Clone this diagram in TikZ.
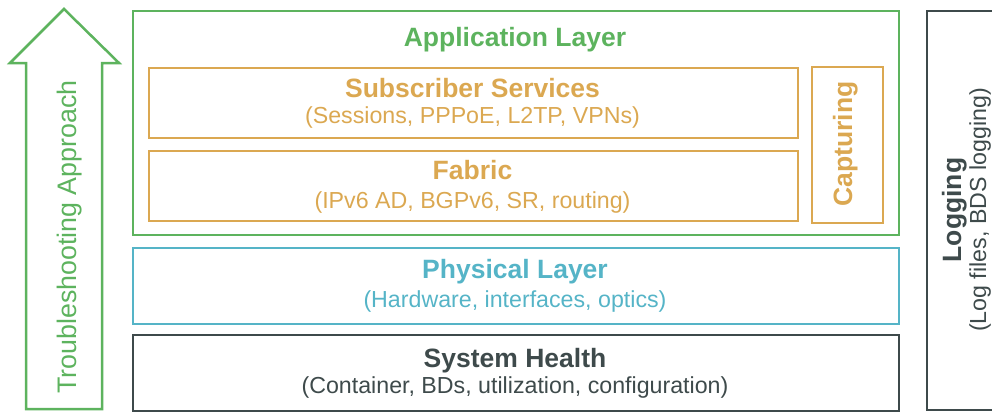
\documentclass[tikz,border=0pt]{standalone}
\usepackage{fontspec}
\setmainfont{Liberation Sans}
\definecolor{cgreen}{HTML}{5DB35E}
\definecolor{cgold}{HTML}{DBA851}
\definecolor{cteal}{HTML}{55B4C7}
\definecolor{cdark}{HTML}{3E4A4B}
\begin{document}
\begin{tikzpicture}[x=1pt,y=-1pt,
  box/.style={draw, line width=2.4pt, inner sep=0pt, anchor=north west},
  ttl/.style={font=\fontsize{26.5}{30}\selectfont\bfseries, anchor=base, inner sep=0pt},
  sub/.style={font=\fontsize{23.2}{27}\selectfont, anchor=base, inner sep=0pt}]
\useasboundingbox (0,0) rectangle (992,412);
% troubleshooting arrow
\draw[cgreen, line width=2.5pt, line join=miter]
  (64,9) -- (119,63) -- (102,63) -- (102,409) -- (26,409) -- (26,63) -- (10,63) -- cycle;
\node[sub, font=\fontsize{26.8}{30}\selectfont, text=cgreen, rotate=90] (ta) at (76,237) {Troubleshooting Approach};
% application layer
\node[box, draw=cgreen, minimum width=766pt, minimum height=224pt] (app) at (132,10) {};
\node[ttl, text=cgreen] (appt) at (515,47) {Application Layer};
\node[box, draw=cgold, minimum width=649pt, minimum height=70pt] (subs) at (148,67) {};
\node[ttl, text=cgold] (subst) at (472.5,97) {Subscriber Services};
\node[sub, text=cgold] (subsd) at (472.5,123) {(Sessions, PPPoE, L2TP, VPNs)};
\node[box, draw=cgold, minimum width=649pt, minimum height=70pt] (fab) at (148,150) {};
\node[ttl, text=cgold] (fabt) at (472.5,179) {Fabric};
\node[sub, text=cgold] (fabd) at (472.5,208) {(IPv6 AD, BGPv6, SR, routing)};
\node[box, draw=cgold, minimum width=71pt, minimum height=156pt] (cap) at (811,66) {};
\node[ttl, text=cgold, rotate=90] (capt) at (852,144) {Capturing};
% physical layer
\node[box, draw=cteal, minimum width=766pt, minimum height=76pt] (phy) at (132,247) {};
\node[ttl, text=cteal] (phyt) at (515,278) {Physical Layer};
\node[sub, text=cteal] (phyd) at (515,307) {(Hardware, interfaces, optics)};
% system health
\node[box, draw=cdark, minimum width=766pt, minimum height=76pt] (sys) at (132,334) {};
\node[ttl, text=cdark] (syst) at (515,367) {System Health};
\node[sub, text=cdark] (sysd) at (515,393) {(Container, BDs, utilization, configuration)};
% logging
\node[box, draw=cdark, minimum width=80pt, minimum height=399pt] (log) at (926,10) {};
\node[ttl, text=cdark, rotate=90] (logt) at (961,210) {Logging};
\node[sub, text=cdark, rotate=90] (logd) at (986,210) {(Log files, BDS logging)};
\end{tikzpicture}
\end{document}
